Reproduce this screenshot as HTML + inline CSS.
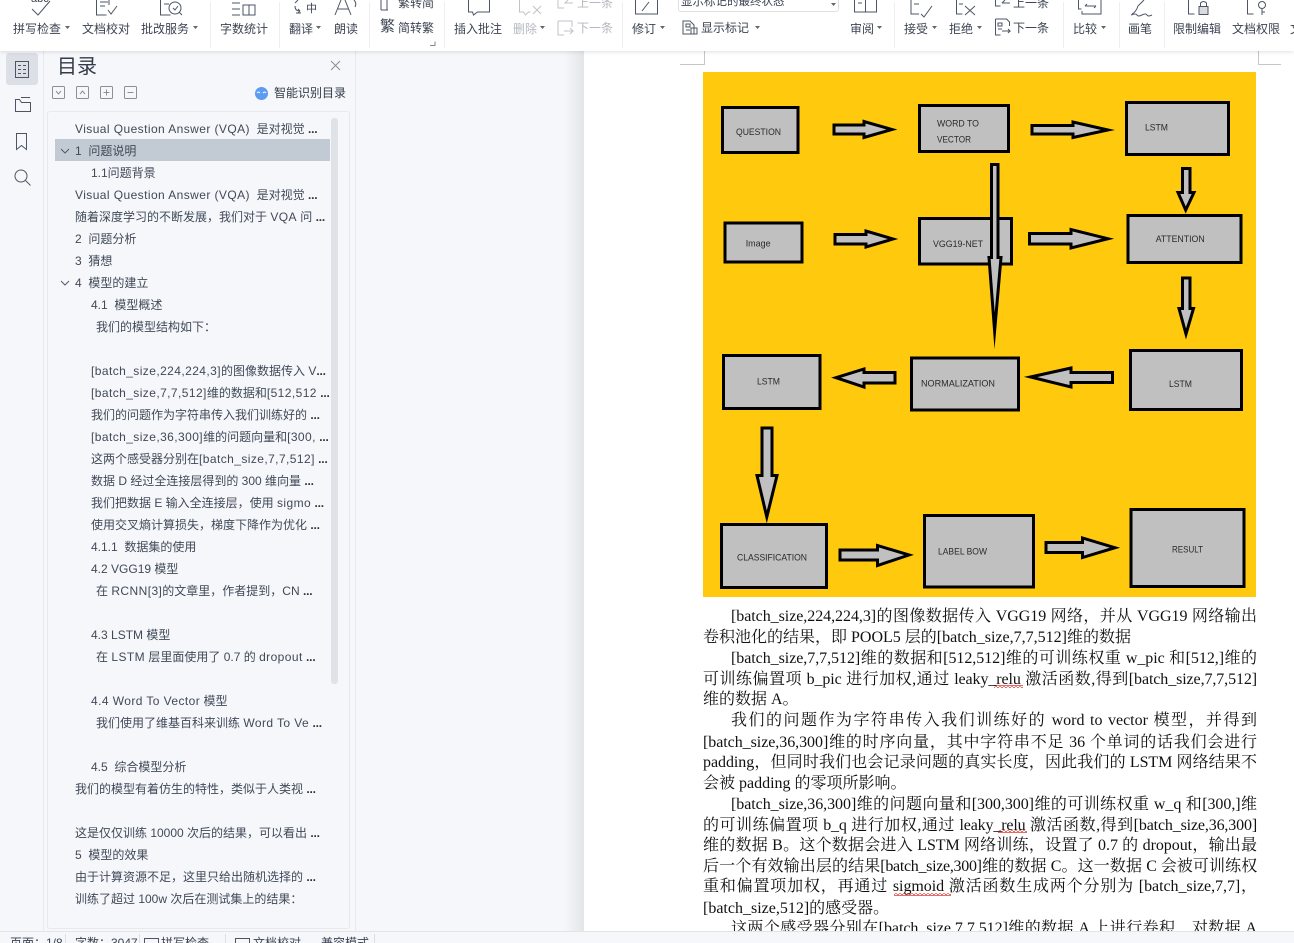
<!DOCTYPE html>
<html lang="zh"><head><meta charset="utf-8"><title>文档</title>
<style>
html,body{margin:0;padding:0;width:1294px;height:943px;overflow:hidden;background:#fff}
body{position:relative;font-family:"Liberation Sans","Noto Sans CJK SC",sans-serif}
div{position:absolute;box-sizing:border-box}
.t{font-size:12px;line-height:16px;color:#3c4352;white-space:nowrap}
.g{color:#b4b8c0}
.c{font-size:12px;line-height:22px;height:22px;color:#414958;white-space:nowrap}
.c b{letter-spacing:-.2px;color:#333}
.w{letter-spacing:.42px}
.l{left:703px;width:554px;height:20px;font:16px/20px "Liberation Serif","Noto Serif CJK SC",serif;color:#111;white-space:normal;text-align:justify;text-align-last:justify}
.i{padding-left:28px}
.e{text-align-last:left}
svg{position:absolute;left:0;top:0;overflow:visible}
</style></head><body>

<div style="left:0;top:51px;width:584px;height:880px;background:#f5f7fa"></div>
<div style="left:564px;top:51px;width:20px;height:880px;background:linear-gradient(90deg,#f5f7fa,#e4e5e7)"></div>
<div style="left:43px;top:51px;width:1px;height:880px;background:#e6e9ee"></div>
<div style="left:355px;top:51px;width:1px;height:880px;background:#e6e9ee"></div>
<div style="left:6px;top:53px;width:32px;height:32px;background:#dcdfe5;border-radius:3px"></div>
<div style="left:47px;top:111px;width:303px;height:818px;border:1px solid #e6e9ee;border-radius:3px"></div>
<div style="left:55px;top:139px;width:275px;height:22px;background:#c2cad3"></div>
<div style="left:331px;top:118px;width:7px;height:566px;background:#dfe2e6;border-radius:3px"></div>

<div style="left:57px;top:54px;font-size:20px;line-height:26px;color:#333b48">目录</div>
<div class="t" style="left:274px;top:85px;color:#333b48">智能识别目录</div>

<div class="c" style="left:75px;top:118px"><span class="w">Visual Question Answer (VQA)</span>&nbsp; 是对视觉 <b>...</b></div>
<div class="c" style="left:75px;top:140px">1&nbsp; 问题说明</div>
<div class="c" style="left:91px;top:162px">1.1问题背景</div>
<div class="c" style="left:75px;top:184px"><span class="w">Visual Question Answer (VQA)</span>&nbsp; 是对视觉 <b>...</b></div>
<div class="c" style="left:75px;top:206px">随着深度学习的不断发展，我们对于 <span class="w">VQA</span> 问 <b>...</b></div>
<div class="c" style="left:75px;top:228px">2&nbsp; 问题分析</div>
<div class="c" style="left:75px;top:250px">3&nbsp; 猜想</div>
<div class="c" style="left:75px;top:272px">4&nbsp; 模型的建立</div>
<div class="c" style="left:91px;top:294px">4.1&nbsp; 模型概述</div>
<div class="c" style="left:96px;top:316px">我们的模型结构如下：</div>
<div class="c" style="left:91px;top:360px"><span class="w">[batch_size,224,224,3]</span>的图像数据传入 V<b>...</b></div>
<div class="c" style="left:91px;top:382px"><span class="w">[batch_size,7,7,512]</span>维的数据和<span class="w">[512,512</span> <b>...</b></div>
<div class="c" style="left:91px;top:404px">我们的问题作为字符串传入我们训练好的 <b>...</b></div>
<div class="c" style="left:91px;top:426px"><span class="w">[batch_size,36,300]</span>维的问题向量和<span class="w">[300,</span> <b>...</b></div>
<div class="c" style="left:91px;top:448px">这两个感受器分别在<span class="w">[batch_size,7,7,512]</span> <b>...</b></div>
<div class="c" style="left:91px;top:470px">数据 D 经过全连接层得到的 300 维向量 <b>...</b></div>
<div class="c" style="left:91px;top:492px">我们把数据 E 输入全连接层，使用 <span class="w">sigmo</span> <b>...</b></div>
<div class="c" style="left:91px;top:514px">使用交叉熵计算损失，梯度下降作为优化 <b>...</b></div>
<div class="c" style="left:91px;top:536px">4.1.1&nbsp; 数据集的使用</div>
<div class="c" style="left:91px;top:558px">4.2 VGG19 模型</div>
<div class="c" style="left:96px;top:580px">在 <span class="w">RCNN[3]</span>的文章里，作者提到，CN <b>...</b></div>
<div class="c" style="left:91px;top:624px">4.3 LSTM 模型</div>
<div class="c" style="left:96px;top:646px">在 <span class="w">LSTM</span> 层里面使用了 0.7 的 <span class="w">dropout</span> <b>...</b></div>
<div class="c" style="left:91px;top:690px"><span class="w">4.4 Word To Vector</span> 模型</div>
<div class="c" style="left:96px;top:712px">我们使用了维基百科来训练 <span class="w">Word To Ve</span> <b>...</b></div>
<div class="c" style="left:91px;top:756px">4.5&nbsp; 综合模型分析</div>
<div class="c" style="left:75px;top:778px">我们的模型有着仿生的特性，类似于人类视 <b>...</b></div>
<div class="c" style="left:75px;top:822px">这是仅仅训练 10000 次后的结果，可以看出 <b>...</b></div>
<div class="c" style="left:75px;top:844px">5&nbsp; 模型的效果</div>
<div class="c" style="left:75px;top:866px">由于计算资源不足，这里只给出随机选择的 <b>...</b></div>
<div class="c" style="left:75px;top:888px">训练了超过 100w 次后在测试集上的结果：</div>

<svg width="1294" height="943" fill="none" stroke="#4d5564" stroke-width="1">
  <rect x="15.500" y="61.500" width="13" height="16"/><path d="M18 65.500h3M18 69.500h3M18 73.500h3M23 65.500h3M23 69.500h3M23 73.500h3"/>
  <path d="M15.500 99.500h4l2 3h9v9h-15zM21 97.500h9"/>
  <path d="M16.500 133.500h10v16l-5-4-5 4z"/>
  <circle cx="21" cy="176" r="6"/><path d="M25.500 180.500l5 5"/>
  <g stroke="#8a8f98"><rect x="52.500" y="86.500" width="12" height="12" rx="1"/><rect x="76.500" y="86.500" width="12" height="12" rx="1"/><rect x="100.500" y="86.500" width="12" height="12" rx="1"/><rect x="124.500" y="86.500" width="12" height="12" rx="1"/>
  <path d="M56 91l2.500 3 2.500-3M80 94l2.500-3 2.500 3M103.500 92.500h6M106.500 89.500v6M127.500 92.500h6"/></g>
  <path d="M331 61l9 9M340 61l-9 9" stroke="#8a8f98"/>
  <circle cx="261.500" cy="93.500" r="6.500" fill="#5b9bf0" stroke="none"/><path d="M257 93q2-2 3 0M263 93q2-2 3 0" stroke="#fff"/>
  <path d="M61 149l4 4 4-4M61 281l4 4 4-4" stroke="#555c69"/>
</svg>

<!-- document -->
<div style="left:703px;top:72px;width:553px;height:525px;background:#ffc90e"></div>
<svg width="1294" height="943">
 <defs><pattern id="sq" width="4" height="3" patternUnits="userSpaceOnUse"><path d="M0 2.500L2 .5L4 2.500" fill="none" stroke="#d8302a" stroke-width="1"/></pattern></defs>
 <g fill="#c0c0c0" stroke="#000" stroke-width="3" stroke-miterlimit="20">
  <rect x="722.500" y="107.500" width="75.500" height="45"/>
  <rect x="919.500" y="105.500" width="89" height="46"/>
  <rect x="1126.500" y="102.500" width="102" height="52"/>
  <rect x="725" y="223" width="77" height="39"/>
  <rect x="919.500" y="218.500" width="92" height="45.500"/>
  <rect x="1128" y="215.500" width="113" height="47"/>
  <rect x="723.500" y="355.500" width="96.500" height="53"/>
  <rect x="911.500" y="358" width="107" height="52"/>
  <rect x="1130.500" y="350.500" width="111" height="59"/>
  <rect x="721.500" y="524.500" width="105" height="63"/>
  <rect x="924.500" y="515.500" width="109" height="71.500"/>
  <rect x="1131" y="509.500" width="113" height="77"/>
  <path d="M834 125H864V121.500L892 129.500L864 137.500V134H834Z"/>
  <path d="M1032 125.500H1073V122L1108 130L1073 137.500V134H1032Z"/>
  <path d="M1182.500 168.500H1190V192.500H1194L1185.700 210L1178 192.500H1182.500Z"/>
  <path d="M991.500 164.500H998V257.500H1001L994.600 331L989 257.500H991.500Z"/>
  <path d="M835 234.500H866V231L893 239L866 247V244H835Z"/>
  <path d="M1029.500 233.500H1071V229.500L1108 238.700L1071 248V244H1029.500Z"/>
  <path d="M1182.500 278H1190V308.500H1193.500L1186 334L1179 308.500H1182.500Z"/>
  <path d="M895 372.500V383H864V387L836 377.700L864 369V372.500Z"/>
  <path d="M1112.500 372.500V382.500H1071V387L1030.500 377L1071 368V372.500Z"/>
  <path d="M762 428H772V475.500H777L766.800 517L757 475.500H762Z"/>
  <path d="M840 550H877.500V545.500L909 555L877.500 565.500V560H840Z"/>
  <path d="M1046 542.500H1082.500V538L1115 547.700L1082.500 557.500V552.500H1046Z"/>
 </g>
 <g font-family="Liberation Sans" font-size="9.500" fill="#2a2a2a">
  <text x="736" y="135" textLength="45" lengthAdjust="spacingAndGlyphs">QUESTION</text>
  <text x="937" y="126.500" textLength="42" lengthAdjust="spacingAndGlyphs">WORD TO</text>
  <text x="937" y="142.500" textLength="34" lengthAdjust="spacingAndGlyphs">VECTOR</text>
  <text x="1145" y="130.500" textLength="23" lengthAdjust="spacingAndGlyphs">LSTM</text>
  <text x="745.700" y="246.500" textLength="25" lengthAdjust="spacingAndGlyphs">Image</text>
  <text x="933" y="247" textLength="50" lengthAdjust="spacingAndGlyphs">VGG19-NET</text>
  <text x="1155.700" y="242" textLength="49" lengthAdjust="spacingAndGlyphs">ATTENTION</text>
  <text x="757" y="384.500" textLength="23" lengthAdjust="spacingAndGlyphs">LSTM</text>
  <text x="921" y="386.500" textLength="74" lengthAdjust="spacingAndGlyphs">NORMALIZATION</text>
  <text x="1169" y="387" textLength="23" lengthAdjust="spacingAndGlyphs">LSTM</text>
  <text x="737" y="560.500" textLength="70" lengthAdjust="spacingAndGlyphs">CLASSIFICATION</text>
  <text x="938" y="554.500" textLength="49" lengthAdjust="spacingAndGlyphs">LABEL BOW</text>
  <text x="1172" y="552.500" textLength="31" lengthAdjust="spacingAndGlyphs">RESULT</text>
 </g>
 <path d="M680 64.500H704.500V51M1281 64.500H1258.500V51" fill="none" stroke="#c6c6c6"/>
 <rect x="994" y="685" width="29" height="3" fill="url(#sq)"/>
 <rect x="998" y="830" width="29" height="3" fill="url(#sq)"/>
 <rect x="894" y="893" width="57" height="3" fill="url(#sq)"/>
</svg>

<div class="l i" style="top:607px;letter-spacing:-.05px">[batch_size,224,224,3]的图像数据传入 VGG19 网络，并从 VGG19 网络输出</div>
<div class="l e" style="top:628px">卷积池化的结果，即 POOL5 层的[batch_size,7,7,512]维的数据</div>
<div class="l i" style="top:649px;letter-spacing:-.05px">[batch_size,7,7,512]维的数据和[512,512]维的可训练权重 w_pic 和[512,]维的</div>
<div class="l" style="top:670px;letter-spacing:-.1px">可训练偏置项 b_pic 进行加权,通过 leaky_relu 激活函数,得到[batch_size,7,7,512]</div>
<div class="l e" style="top:690px">维的数据 A。</div>
<div class="l i" style="top:711px">我们的问题作为字符串传入我们训练好的 word to vector 模型，并得到</div>
<div class="l" style="top:733px;letter-spacing:-.05px">[batch_size,36,300]维的时序向量，其中字符串不足 36 个单词的话我们会进行</div>
<div class="l" style="top:753px;letter-spacing:-.05px">padding，但同时我们也会记录问题的真实长度，因此我们的 LSTM 网络结果不</div>
<div class="l e" style="top:774px">会被 padding 的零项所影响。</div>
<div class="l i" style="top:795px;letter-spacing:-.05px">[batch_size,36,300]维的问题向量和[300,300]维的可训练权重 w_q 和[300,]维</div>
<div class="l" style="top:816px;letter-spacing:-.15px">的可训练偏置项 b_q 进行加权,通过 leaky_relu 激活函数,得到[batch_size,36,300]</div>
<div class="l" style="top:836px;letter-spacing:-.05px">维的数据 B。这个数据会进入 LSTM 网络训练，设置了 0.7 的 dropout，输出最</div>
<div class="l" style="top:857px;letter-spacing:-.3px">后一个有效输出层的结果[batch_size,300]维的数据 C。这一数据 C 会被可训练权</div>
<div class="l" style="top:877px;letter-spacing:-.05px">重和偏置项加权，再通过 sigmoid 激活函数生成两个分别为 [batch_size,7,7]，</div>
<div class="l e" style="top:899px">[batch_size,512]的感受器。</div>
<div class="l i" style="top:919px;letter-spacing:-.05px">这两个感受器分别在[batch_size,7,7,512]维的数据 A 上进行卷积，对数据 A</div>

<!-- status bar -->
<div style="left:0;top:931px;width:1294px;height:12px;background:#f5f7fa;border-top:1px solid #e2e4e8"></div>
<div class="t" style="left:10px;top:935px">页面：1/8</div>
<div class="t" style="left:75px;top:935px">字数：3047</div>
<div class="t" style="left:161px;top:935px">拼写检查</div>
<div class="t" style="left:253px;top:935px">文档校对</div>
<div class="t" style="left:321px;top:935px">兼容模式</div>
<svg width="1294" height="943" fill="none" stroke="#4d5564">
 <rect x="144.500" y="938.500" width="14" height="12"/><rect x="235.500" y="938.500" width="14" height="12"/>
 <path d="M65.500 934v9M139.500 934v9M225.500 934v9M374.500 934v9" stroke="#dcdfe3"/>
</svg>

<!-- ribbon -->
<div style="left:0;top:0;width:1294px;height:51px;background:#fff;box-shadow:0 1px 4px rgba(0,0,0,.12)"></div>
<div style="left:678px;top:-6px;width:161px;height:18px;border:1px solid #e0e0e0;border-radius:3px;background:#fff"></div>
<div class="t" style="left:681px;top:-6px;font-size:11.500px">显示标记的最终状态</div>
<div class="t" style="left:13px;top:21px">拼写检查</div>
<div class="t" style="left:82px;top:21px">文档校对</div>
<div class="t" style="left:141px;top:21px">批改服务</div>
<div class="t" style="left:220px;top:21px">字数统计</div>
<div class="t" style="left:289px;top:21px">翻译</div>
<div class="t" style="left:334px;top:21px">朗读</div>
<div class="t" style="left:398px;top:-5px">繁转简</div>
<div class="t" style="left:398px;top:20px">简转繁</div>
<div class="t" style="left:454px;top:21px">插入批注</div>
<div class="t g" style="left:513px;top:21px">删除</div>
<div class="t g" style="left:577px;top:-5px">上一条</div>
<div class="t g" style="left:577px;top:20px">下一条</div>
<div class="t" style="left:632px;top:21px">修订</div>
<div class="t" style="left:701px;top:20px">显示标记</div>
<div class="t" style="left:850px;top:21px">审阅</div>
<div class="t" style="left:904px;top:21px">接受</div>
<div class="t" style="left:949px;top:21px">拒绝</div>
<div class="t" style="left:1013px;top:-5px">上一条</div>
<div class="t" style="left:1013px;top:20px">下一条</div>
<div class="t" style="left:1073px;top:21px">比较</div>
<div class="t" style="left:1128px;top:21px">画笔</div>
<div class="t" style="left:1173px;top:21px">限制编辑</div>
<div class="t" style="left:1232px;top:21px">文档权限</div>
<div class="t" style="left:1290px;top:21px">文</div>
<div class="t" style="left:380px;top:18px;font-size:15px;line-height:18px">繁</div>
<div class="t" style="left:306px;top:2px;font-size:11px;line-height:14px">中</div>
<div class="t" style="left:31px;top:-7px;font-size:11px;line-height:12px">abc</div>
<svg width="1294" height="51" fill="none" stroke="#4d5564">
 <path d="M210.500 2v46M279.500 2v46M369.500 2v46M444.500 2v46M622.500 2v46M894.500 2v46M1063.500 2v46M1119.500 2v46M1164.500 2v46" stroke="#eeeeee"/>
 <path d="M435 41.500v4h-5" stroke="#888"/>
 <g fill="#666" stroke="none">
  <path d="M65 26h5l-2.500 3zM193 26h5l-2.500 3zM316 26h5l-2.500 3zM540 26h5l-2.500 3zM660 26h5l-2.500 3zM755 26h5l-2.500 3zM877 26h5l-2.500 3zM932 26h5l-2.500 3zM977 26h5l-2.500 3zM1101 26h5l-2.500 3zM831 3h5l-2.500 3z"/>
 </g>
 <path d="M32 9l6 6 12-14"/>
 <path d="M96.500 0v15h10M100 2h8M100 6h5M108 10l3 4 6-8M109 0v5"/>
 <path d="M160.500 0v15h10M164 4h5"/><circle cx="175" cy="8" r="6"/><path d="M179 12l3 3M173 8l2 2 3-4"/>
 <path d="M232 3h8M232 9h8M232 15h8M243 5h6v10h-6zM249 5h6v10h-6z"/>
 <path d="M295 6q0 5 5 5M296 13h5M300 11l-2-2M300 11l-2 2M298 0l-3 3"/>
 <path d="M335 15l6-15M351 15l-6-15M338 9h11M354 0q3 3 1 7"/>
 <path d="M381 0v10M387 0v10M381 10h7"/>
 <path d="M468.500 0v12h4l1 3 4-3h12V0"/>
 <path d="M519.500 0v12h4l2 3 3-3h2M533 6l8 8M541 6l-8 8" stroke="#c0c3c8"/>
 <path d="M558 0v8h6M573 3h-8l3-3M558 21h14v6M558 21v14h6M564 31h9l-3-3M573 31l-3 3" stroke="#c0c3c8"/>
 <path d="M635.500 0v14h22V0M642 11l7-9"/>
 <path d="M683 21h7l4 4v9h-11zM686 24h4v3h-4zM686 30h4M691 28h6v6h-6z"/>
 <path d="M854.500 0v12h22V0M865.500 0v12M858 3h4"/>
 <path d="M911 0v14h8M914 4h5M921 14l3 3 8-11"/>
 <path d="M956.500 0v14h6M959 4h4M965 6l10 9M975 6l-10 9"/>
 <path d="M995.500 0v6h5M1002 3h8M1002 3l3-3M995.500 19h11l3 3v4M995.500 19v16h5M998 23h4v3h-4zM998 29h4M1002 31h8l-2-2M1010 31l-2 2"/>
 <path d="M1078.500 0v9h3M1082 11v3h19V0M1085 6h11M1085 6l2-2M1096 6l-2 2"/>
 <path d="M1132 14q4-2 6-8l6-6M1131 15q5-2 6 0t5 0t5 0t5 0"/>
 <path d="M1188.500 0v14h6"/><rect x="1199" y="6.500" width="9" height="8" fill="#d9dbdf"/><path d="M1200.500 6v-3q3-3 6 0v3"/>
 <path d="M1247.500 0v14h6"/><circle cx="1262" cy="5" r="3.500"/><path d="M1262 9v6M1262 12h3"/>
</svg>
</body></html>
